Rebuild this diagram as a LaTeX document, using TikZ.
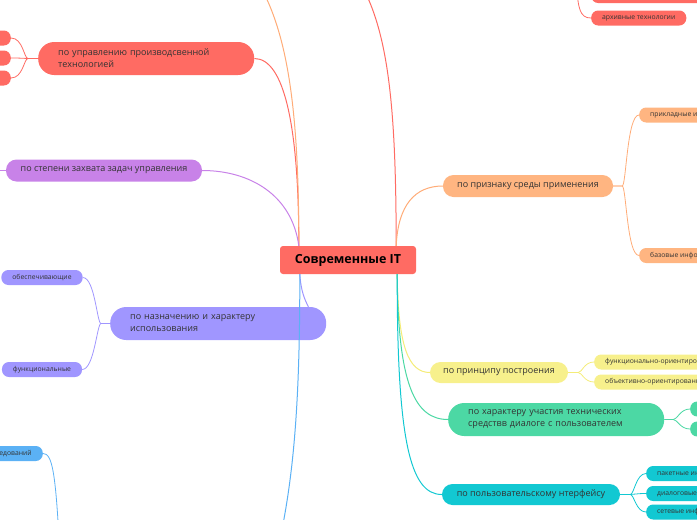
\documentclass[tikz,border=0pt]{standalone}
\usepackage{fontspec}
\setmainfont{Open Sans}
\usetikzlibrary{positioning}

\definecolor{coral}{HTML}{FF6B63}
\definecolor{peach}{HTML}{FFB581}
\definecolor{peachline}{HTML}{FFAC78}
\definecolor{orchid}{HTML}{C882E8}
\definecolor{lavender}{HTML}{A096FF}
\definecolor{skyblue}{HTML}{5BB1F5}
\definecolor{lemon}{HTML}{F7F08C}
\definecolor{lemonline}{HTML}{F4EC78}
\definecolor{mint}{HTML}{4CD8A4}
\definecolor{teal}{HTML}{12C8D2}
\definecolor{ink}{HTML}{333333}

\tikzset{
  root/.style={rectangle, rounded corners=3pt, fill=coral, minimum width=136pt,
    minimum height=28pt, inner sep=0pt, font=\fontsize{12.5}{15}\selectfont\bfseries, text=black},
  topic/.style={rectangle, rounded corners=10.5pt, minimum height=22pt, inner sep=0pt,
    font=\fontsize{9}{12}\selectfont, text=ink},
  twoline/.style={topic, rounded corners=16pt, minimum height=33pt, align=left,
    inner xsep=20pt, text width=176pt},
  leaf/.style={rectangle, rounded corners=7pt, minimum height=15pt, inner xsep=11pt,
    inner ysep=0pt, font=\fontsize{6.8}{8}\selectfont, text=ink, anchor=west},
  link/.style={line width=1pt},
  twig/.style={line width=0.8pt},
}

\begin{document}
\begin{tikzpicture}[x=1pt,y=-1pt]
  \useasboundingbox (0,0) rectangle (697,520);
  \clip (0,0) rectangle (697,520);

  % Центр
  \node[root] (it) at (348,260) {Современные IT};

  % Ветви слева
  \node[twoline,fill=coral,anchor=west] (upr) at (38,58.5) {по управлению производсвенной\\технологией};
  \node[topic,fill=orchid,minimum width=196pt] (zahvat) at (104,170.5) {по степени захвата задач управления};
  \node[twoline,fill=lavender,anchor=west] (naznach) at (110,323.5) {по назначению и характеру\\использования};

  % Ветви справа
  \node[topic,fill=peach,minimum width=170pt] (sreda) at (528,186) {по признаку среды применения};
  \node[topic,fill=lemon,minimum width=138pt,minimum height=21pt] (princip) at (499,372.5) {по принципу построения};
  \node[twoline,fill=mint,anchor=west] (harakter) at (448,419.5) {по характеру участия технических\\средствв диалоге с пользователем};
  \node[topic,fill=teal,minimum width=178pt,minimum height=21pt] (interf) at (531,494.5) {по пользовательскому нтерфейсу};

  % Листья
  \node[leaf,fill=coral,anchor=east,minimum width=40pt] (upra) at (11,38) {};
  \node[leaf,fill=coral,anchor=east,minimum width=40pt] (uprb) at (11,58) {};
  \node[leaf,fill=coral,anchor=east,minimum width=40pt] (uprc) at (11,78) {};
  \node[leaf,fill=coral] (obrab) at (591,-4.5) {обрабатывающие технологии};
  \node[leaf,fill=coral] (arhiv) at (591,18) {архивные технологии};
  \node[leaf,fill=peach] (prikl) at (639,115) {прикладные информационные технологии};
  \node[leaf,fill=peach] (baz) at (639,255.5) {базовые информационные технологии};
  \node[leaf,fill=lavender,minimum width=80pt,anchor=center] (obesp) at (42,277.5) {обеспечивающие};
  \node[leaf,fill=lavender,minimum width=80pt,anchor=center] (funk) at (42,369.5) {функциональные};
  \node[leaf,fill=skyblue,anchor=east] (issl) at (43,453.5) {научных исследований};
  \node[leaf,fill=lemon] (funor) at (594,362) {функционально-ориентированные технологии};
  \node[leaf,fill=lemon] (obor) at (594,382) {объективно-ориентированные технологии};
  \node[leaf,fill=mint,minimum width=60pt] (harA) at (690,409) {};
  \node[leaf,fill=mint,minimum width=60pt] (harB) at (690,429) {};
  \node[leaf,fill=teal] (paket) at (646,473.5) {пакетные информационные технологии};
  \node[leaf,fill=teal] (dialog) at (646,493.5) {диалоговые информационные технологии};
  \node[leaf,fill=teal] (set) at (646,512) {сетевые информационные технологии};

  % Точки за краем
  \coordinate (cnl) at ([xshift=19pt]it.north west);
  \coordinate (cnr) at ([xshift=-20pt]it.north east);
  \coordinate (csl) at ([xshift=20pt]it.south west);
  \coordinate (csr) at ([xshift=-19pt]it.south east);
  \coordinate (naztop) at ([xshift=-18pt]naznach.north east);
  \coordinate (orangetop) at (250,-30);
  \coordinate (redtop) at (352,-30);
  \coordinate (redsub) at (576,-30);
  \coordinate (bluebottom) at (270,580);
  \coordinate (bluesub) at (60,560);
  \coordinate (zahvatkid) at (-12,170.5);

  % Связи от центра
  \draw[link,coral] (cnl) .. controls (299,130) and (285,58.5) .. (upr.east);
  \draw[link,peachline] (cnl) .. controls (299,100) and (286,20) .. (orangetop);
  \draw[link,orchid] (cnl) .. controls (292,195) and (250,170.5) .. (zahvat.east);
  \draw[link,coral] (cnr) .. controls (396,100) and (388,20) .. (redtop);
  \draw[link,peachline] (cnr) .. controls (398,205) and (415,186) .. (sreda.west);
  \draw[link,lavender] (csl) .. controls (301,292) and (305,300) .. (naztop);
  \draw[link,skyblue] (csl) .. controls (300,420) and (292,500) .. (bluebottom);
  \draw[link,lemonline] (csr) .. controls (398,345) and (408,372.5) .. (princip.west);
  \draw[link,mint] (csr) .. controls (398,385) and (415,419.5) .. (harakter.west);
  \draw[link,teal] (csr) .. controls (397,440) and (410,494.5) .. (interf.west);

  % Связи к листьям
  \foreach \k in {upra,uprb,uprc}
    \draw[twig,coral] (upr.west) -- ++(-10,0) .. controls +(-4,0) and +(12,0) .. (\k.east);
  \draw[twig,coral] (redsub) .. controls (577,10) and (580,18) .. (arhiv.west);
  \draw[twig,coral] (redsub) .. controls (577,-8) and (580,-4.5) .. (obrab.west);
  \draw[twig,orchid] (zahvat.west) -- (zahvatkid);
  \foreach \k in {obesp,funk}
    \draw[twig,lavender] (naznach.west) -- ++(-9,0) .. controls +(-4,0) and +(12,0) .. (\k.east);
  \draw[twig,skyblue] (issl.east) .. controls (52,453.5) and (56,470) .. (bluesub);
  \foreach \k in {prikl,baz}
    \draw[twig,peachline] (sreda.east) -- ++(9,0) .. controls +(4,0) and +(-12,0) .. (\k.west);
  \foreach \k in {funor,obor}
    \draw[twig,lemonline] (princip.east) -- ++(10,0) .. controls +(4,0) and +(-10,0) .. (\k.west);
  \foreach \k in {harA,harB}
    \draw[twig,mint] (harakter.east) -- ++(9,0) .. controls +(4,0) and +(-10,0) .. (\k.west);
  \foreach \k in {paket,dialog,set}
    \draw[twig,teal] (interf.east) -- ++(10,0) .. controls +(4,0) and +(-10,0) .. (\k.west);
\end{tikzpicture}
\end{document}
